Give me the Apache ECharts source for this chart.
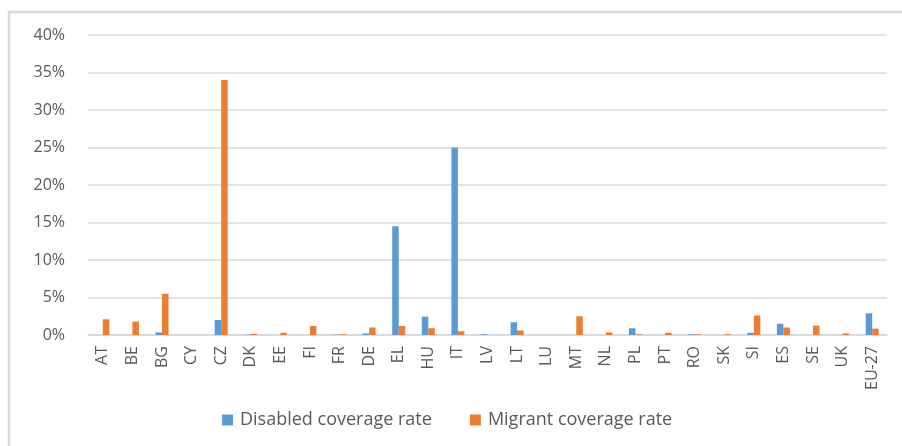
<!DOCTYPE html>
<html><head><meta charset="utf-8">
<script src="https://cdn.jsdelivr.net/npm/echarts@6/dist/echarts.min.js"></script>
<style>html,body{margin:0;padding:0;background:#fff}#c{width:902px;height:446px}</style>
</head><body><div id="c"></div>
<script>
const categories = ["AT","BE","BG","CY","CZ","DK","EE","FI","FR","DE","EL","HU","IT","LV","LT","LU","MT","NL","PL","PT","RO","SK","SI","ES","SE","UK","EU-27"];
const disabled = [0,0,0.35,0,2.0,0.05,0,0,0.05,0.2,14.5,2.45,25,0.1,1.7,0,0,0,0.9,0,0.1,0,0.3,1.5,0,0,2.9];
const migrant = [2.1,1.8,5.5,0,34,0.15,0.3,1.2,0.1,1.0,1.2,0.9,0.5,0,0.6,0,2.5,0.35,0.1,0.3,0.1,0.1,2.6,1.0,1.25,0.2,0.85];
const yTicks = [0,5,10,15,20,25,30,35,40];
const chart = echarts.init(document.getElementById('c'));
const font = '"Open Sans", "Liberation Sans", sans-serif';
chart.setOption({
  animation:false,
  textStyle:{fontFamily:font},
  graphic:[
    {type:'rect', shape:{x:9,y:12,width:900,height:440}, style:{fill:null, stroke:'#d9d9d9', lineWidth:2.5}, silent:true}
  ],
  grid:{left:88,right:15,top:35,bottom:111},
  legend:{bottom:12,left:217,itemWidth:11,itemHeight:11,itemGap:38,icon:'rect',
    textStyle:{fontSize:18,color:'#595959',fontFamily:font,padding:[0,0,0,2]},
    data:['Disabled coverage rate','Migrant coverage rate']},
  xAxis:{type:'category',data:categories,
    axisLine:{lineStyle:{color:'#d9d9d9',width:1.5}},axisTick:{show:false},
    axisLabel:{rotate:90,interval:0,fontSize:16,color:'#595959',margin:11,fontFamily:font}},
  yAxis:{type:'value',min:0,max:40,interval:5,
    axisLabel:{formatter:v=>v+'%',fontSize:16,color:'#595959',margin:23,fontFamily:font},
    splitLine:{lineStyle:{color:'#d9d9d9',width:1.5}},axisLine:{show:false},axisTick:{show:false}},
  series:[
    {name:'Disabled coverage rate',type:'bar',data:disabled,itemStyle:{color:'#5b9bd5'},barGap:'0%',barCategoryGap:'56%'},
    {name:'Migrant coverage rate',type:'bar',data:migrant,itemStyle:{color:'#ed7d31'}}
  ]
});
</script></body></html>
